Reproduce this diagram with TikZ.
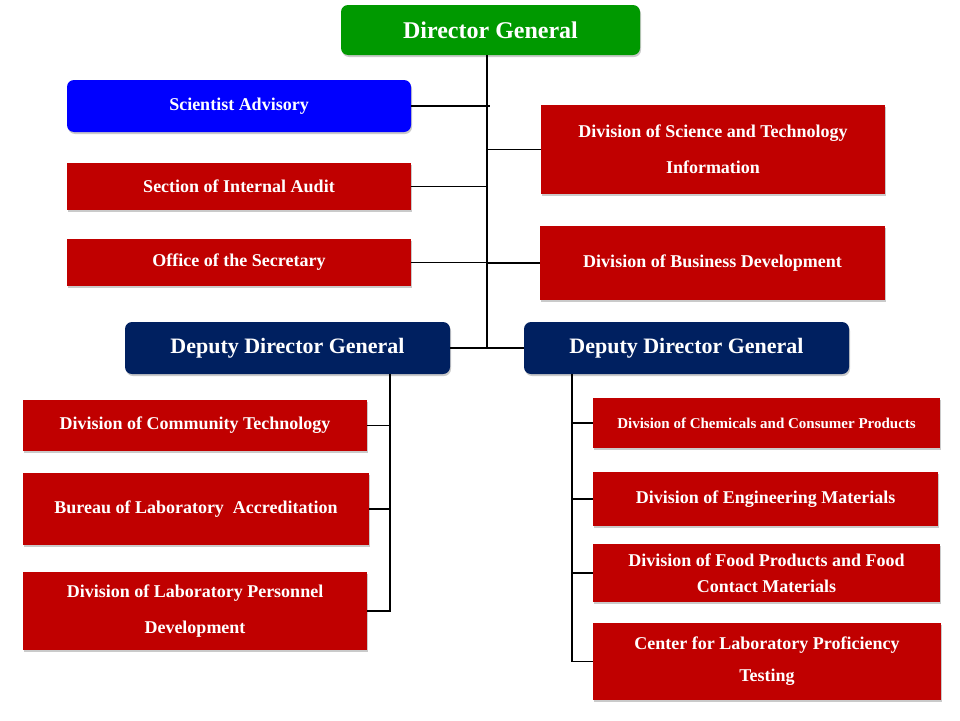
\documentclass[tikz,border=0pt]{standalone}
\usepackage{fontspec}
\setmainfont{Liberation Serif}
\usetikzlibrary{calc,shadows}
\definecolor{dggreen}{HTML}{009900}
\definecolor{sablue}{HTML}{0000FF}
\definecolor{divred}{HTML}{C00000}
\definecolor{ddgnavy}{HTML}{002060}
\tikzset{
  box/.style={rectangle,inner sep=0pt,text=white,align=center,
    drop shadow={shadow xshift=1pt,shadow yshift=-2pt,opacity=0.35,fill=black!60}},
  box-dg/.style={box,fill=dggreen,rounded corners=7pt,minimum width=299pt,minimum height=50pt,font=\fontsize{24}{28}\selectfont\bfseries},
  box-sa/.style={box,fill=sablue,rounded corners=7pt,minimum width=344pt,minimum height=52pt,font=\fontsize{18}{22}\selectfont\bfseries},
  box-ddg/.style={box,fill=ddgnavy,rounded corners=7pt,minimum width=325pt,minimum height=52pt,font=\fontsize{22}{26}\selectfont\bfseries},
  box-div/.style={box,fill=divred,minimum width=344pt,font=\fontsize{18}{22}\selectfont\bfseries},
  link/.style={draw,black,line width=1.6pt},
}

\begin{document}
\begin{tikzpicture}[x=1pt,y=-1pt]
  \useasboundingbox (0,0) rectangle (960,720);

  % top level
  \node[box-dg] (dg) at (490.5,30) {Director General};
  \coordinate (trunk) at (487,348);

  % staff units left of the trunk
  \node[box-sa] (sa)                          at (239,106)   {Scientist Advisory};
  \node[box-div,minimum height=47pt] (sia)    at (239,186.5) {Section of Internal Audit};
  \node[box-div,minimum height=47pt] (os)     at (239,262.5) {Office of the Secretary};

  % divisions right of the trunk
  \node[box-div,minimum height=89pt] (dsti)   at (713,149.5) {Division of Science and Technology\\[14pt] Information};
  \node[box-div,minimum width=345pt,minimum height=74pt] (dbd) at (712.5,263) {Division of Business Development};

  % deputies
  \node[box-ddg] (ddgl) at (287.5,348) {Deputy Director General};
  \node[box-ddg] (ddgr) at (686.5,348) {Deputy Director General};
  \coordinate (lspine) at (390,611);
  \coordinate (rspine) at (572,661.5);

  % left deputy
  \node[box-div,minimum height=51pt] (lct)    at (195,425.5) {Division of Community Technology};
  \node[box-div,minimum width=346pt,minimum height=72pt] (bla) at (196,509) {Bureau of Laboratory~ Accreditation};
  \node[box-div,minimum height=78pt] (lpd)    at (195,611)   {Division of Laboratory Personnel\\[14pt] Development};

  % right deputy
  \node[box-div,minimum width=347pt,minimum height=50pt,font=\fontsize{15}{18}\selectfont\bfseries] (dcc) at (766.5,423) {Division of Chemicals and Consumer Products};
  \node[box-div,minimum width=345pt,minimum height=54pt] (dem) at (765.5,499) {Division of Engineering Materials};
  \node[box-div,minimum width=347pt,minimum height=58pt] (dfp) at (766.5,573) {Division of Food Products and Food\\[4pt] Contact Materials};
  \node[box-div,minimum width=348pt,minimum height=77pt] (cpt) at (767,661.5) {Center for Laboratory Proficiency\\[10pt] Testing};

  % connectors
  \draw[link] (dg.south -| trunk) -- (trunk);
  \draw[link] (sa.east) -- ([xshift=3pt]sa.east -| trunk);
  \draw[link] (sia.east) -- (sia.east -| trunk);
  \draw[link] (os.east) -- (os.east -| trunk);
  \draw[link] (dsti.west -| trunk) -- (dsti.west);
  \draw[link] (dbd.west -| trunk) -- (dbd.west);
  \draw[link] (ddgl.east) -- (ddgr.west);

  \draw[link] (lspine |- ddgl.south) -- (lspine) -- (lpd.east);
  \draw[link] (lct.east) -- (lct.east -| lspine);
  \draw[link] (bla.east) -- (bla.east -| lspine);

  \draw[link] (rspine |- ddgr.south) -- (rspine) -- (cpt.west);
  \draw[link] (dcc.west -| rspine) -- (dcc.west);
  \draw[link] (dem.west -| rspine) -- (dem.west);
  \draw[link] (dfp.west -| rspine) -- (dfp.west);

\end{tikzpicture}
\end{document}
